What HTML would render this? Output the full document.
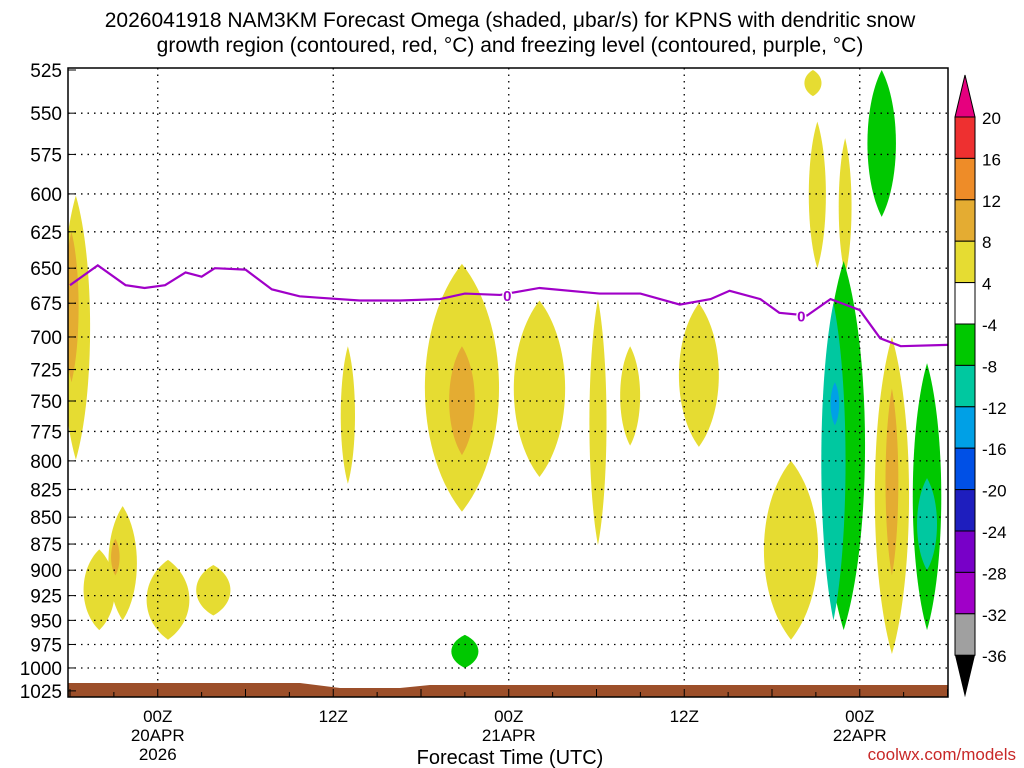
<!DOCTYPE html>
<html><head><meta charset="utf-8"><style>
body{margin:0;background:#fff;width:1024px;height:768px;overflow:hidden;font-family:"Liberation Sans","DejaVu Sans",sans-serif}
svg{display:block}
</style></head><body>
<svg id="c" width="1024" height="768" xmlns="http://www.w3.org/2000/svg">
<text x="510" y="27" font-size="21" text-anchor="middle">2026041918 NAM3KM Forecast Omega (shaded, μbar/s) for KPNS with dendritic snow</text>
<text x="510" y="52" font-size="21" text-anchor="middle">growth region (contoured, red, °C) and freezing level (contoured, purple, °C)</text>
<g id="blobs"></g><g id="grid"></g><g id="ground"></g><g id="fz"></g><g id="axes"></g><g id="cbar"></g>
<text x="510" y="764" font-size="20" text-anchor="middle">Forecast Time (UTC)</text>
<text x="1016" y="760" font-size="17" text-anchor="end" fill="#c82828">coolwx.com/models</text>
</svg>
<script>
const NS='http://www.w3.org/2000/svg';
const pLevels=[525,550,575,600,625,650,675,700,725,750,775,800,825,850,875,900,925,950,975,1000,1025];
const xTickHours=[6,18,30,42,54];
const xTickLabels=[['00Z','20APR','2026'],['12Z'],['00Z','21APR'],['12Z'],['00Z','22APR']];
const fzHours=[0,1.9,3.8,5.1,6.5,7.9,9,9.9,12,13.8,15.7,17,19.8,22.6,25.3,27,29.4,32.1,36.2,39,41.7,43.8,45.1,47.2,48.5,50.4,52,54,55.4,56.8,60];
const fzPres=[662,648,662,664,662,653,656,650,651,665,670,671,673,673,672,668,669,664,668,668,676,672,666,672,682,684,672,680,701,707,706];
// blobs: hour center, half-width (h), top p, bottom p, colour level
const blobH=[0.4,0.1,2,3.6,3.1,6.7,9.8,19,26.8,25.8,26.8,32.1,36.1,38.3,43,49.3,51.1,50.8,53,52.9,52.2,52.3,56.2,56.2,55.5,58.6,58.6,27];
const blobW=[1.0,0.5,1.1,1.0,0.3,1.5,1.2,0.5,2.6,0.8,0.9,1.8,0.6,0.7,1.4,1.9,0.6,0.6,0.45,1.5,0.85,0.3,1.2,0.45,1.0,1.0,0.7,0.95];
const blobTop=[601,625,880,840,870,890,895,707,647,760,707,673,672,707,675,800,555,525,565,645,675,735,700,740,525,720,815,965];
const blobBot=[799,735,960,950,905,970,945,820,845,805,795,814,876,787,788,970,650,540,655,960,950,770,985,905,615,960,900,1000];
const blobLvl=[4,8,4,4,8,4,4,4,4,4,8,4,4,4,4,4,4,4,4,-4,-8,-12,4,8,-4,-4,-8,-4];
const cbLevels=[20,16,12,8,4,-4,-8,-12,-16,-20,-24,-28,-32,-36];
const cbColors=['#ee3030','#ee8c28','#e4ac32','#e6dc32','#ffffff','#00c800','#00c8a0','#00a0e6','#0050e6','#1e1ebe','#7800c8','#a000c8','#a0a0a0'];
const lvlColor={20:'#ee3030',16:'#ee8c28',12:'#e4ac32',8:'#e4ac32',4:'#e6dc32','-4':'#00c800','-8':'#00c8a0','-12':'#00a0e6','-16':'#0050e6'};
const X0=70,XS=14.625,Y0=70,YS=928;
const x=h=>X0+h*XS;
const y=p=>Y0+YS*Math.log(p/525);
const L=68,R=948,T=68,B=697;
function el(t,a,par){const e=document.createElementNS(NS,t);for(const k in a)e.setAttribute(k,a[k]);document.getElementById(par).appendChild(e);return e;}
const clip=el('clipPath',{id:'pc'},'c');clip.innerHTML='<rect x="68" y="68" width="880" height="629"/>';
const bg=document.getElementById('blobs');bg.setAttribute('clip-path','url(#pc)');
blobH.forEach((h,i)=>{const cx=x(h),yt=y(blobTop[i]),yb=y(blobBot[i]),rx=blobW[i]*XS,cy=(yt+yb)/2,ry=(yb-yt)/2;
 const e=el('path',{d:`M${cx},${yt} C${cx+rx*1.3},${yt+ry*0.5} ${cx+rx*1.3},${yb-ry*0.5} ${cx},${yb} C${cx-rx*1.3},${yb-ry*0.5} ${cx-rx*1.3},${yt+ry*0.5} ${cx},${yt}Z`,fill:lvlColor[blobLvl[i]]},'blobs');
 
 });
pLevels.forEach(p=>{if(p>525&&p<1025){const l=el('line',{x1:L,x2:R,y1:y(p),y2:y(p),stroke:'#000','stroke-width':1.3,'stroke-dasharray':'1.5,5'},'grid');}
 const t=el('text',{x:62,y:y(p)+7,'font-size':19,'text-anchor':'end'},'axes');t.textContent=p;
 
 el('line',{x1:L,x2:L+8,y1:y(p),y2:y(p),stroke:'#000'},'axes');});
xTickHours.forEach((h,i)=>{const l=el('line',{x1:x(h),x2:x(h),y1:T,y2:B,stroke:'#000','stroke-width':1.3,'stroke-dasharray':'1.5,5'},'grid');
 
 xTickLabels[i].forEach((s,j)=>{const t=el('text',{x:x(h),y:B+25+j*19,'font-size':17,'text-anchor':'middle'},'axes');t.textContent=s;
 });});
for(let h=0;h<=60;h+=3){el('line',{x1:x(h),x2:x(h),y1:B,y2:B-(h%6==0?8:5),stroke:'#000'},'axes');}
const g=el('path',{d:`M${L},${B} L${L},683 L300,683 L340,688 L400,688 L430,685 L948,685 L948,${B}Z`,fill:'#9c4f2a'},'ground');

const fl=el('polyline',{points:fzHours.map((h,i)=>x(h)+','+y(fzPres[i])).join(' '),fill:'none',stroke:'#a000c8','stroke-width':2.2},'fz');

[[29.9,669],[50,684]].forEach(q=>{const t=el('text',{x:x(q[0]),y:y(q[1])+6,'font-size':15,'font-weight':'bold',fill:'#a000c8','text-anchor':'middle',stroke:'#fff','stroke-width':3,'paint-order':'stroke'},'fz');t.textContent='0';
 });
const fr=el('rect',{x:L,y:T,width:R-L,height:B-T,fill:'none',stroke:'#000','stroke-width':1.5},'axes');

// colorbar
const cx0=955,cw=20,ct=117,cs=41.4;
el('path',{d:`M${cx0},${ct} L${cx0+cw/2},75 L${cx0+cw},${ct}Z`,fill:'#e6007e',stroke:'#000'},'cbar');
cbColors.forEach((c,i)=>{const r=el('rect',{x:cx0,y:ct+i*cs,width:cw,height:cs,fill:c,stroke:'#000'},'cbar');
 });
const cb=ct+cbColors.length*cs;
el('path',{d:`M${cx0},${cb} L${cx0+cw/2},${cb+42} L${cx0+cw},${cb}Z`,fill:'#000'},'cbar');
cbLevels.forEach((v,i)=>{const t=el('text',{x:982,y:ct+i*cs+7,'font-size':17},'cbar');t.textContent=v;
 });
</script>
</body></html>
